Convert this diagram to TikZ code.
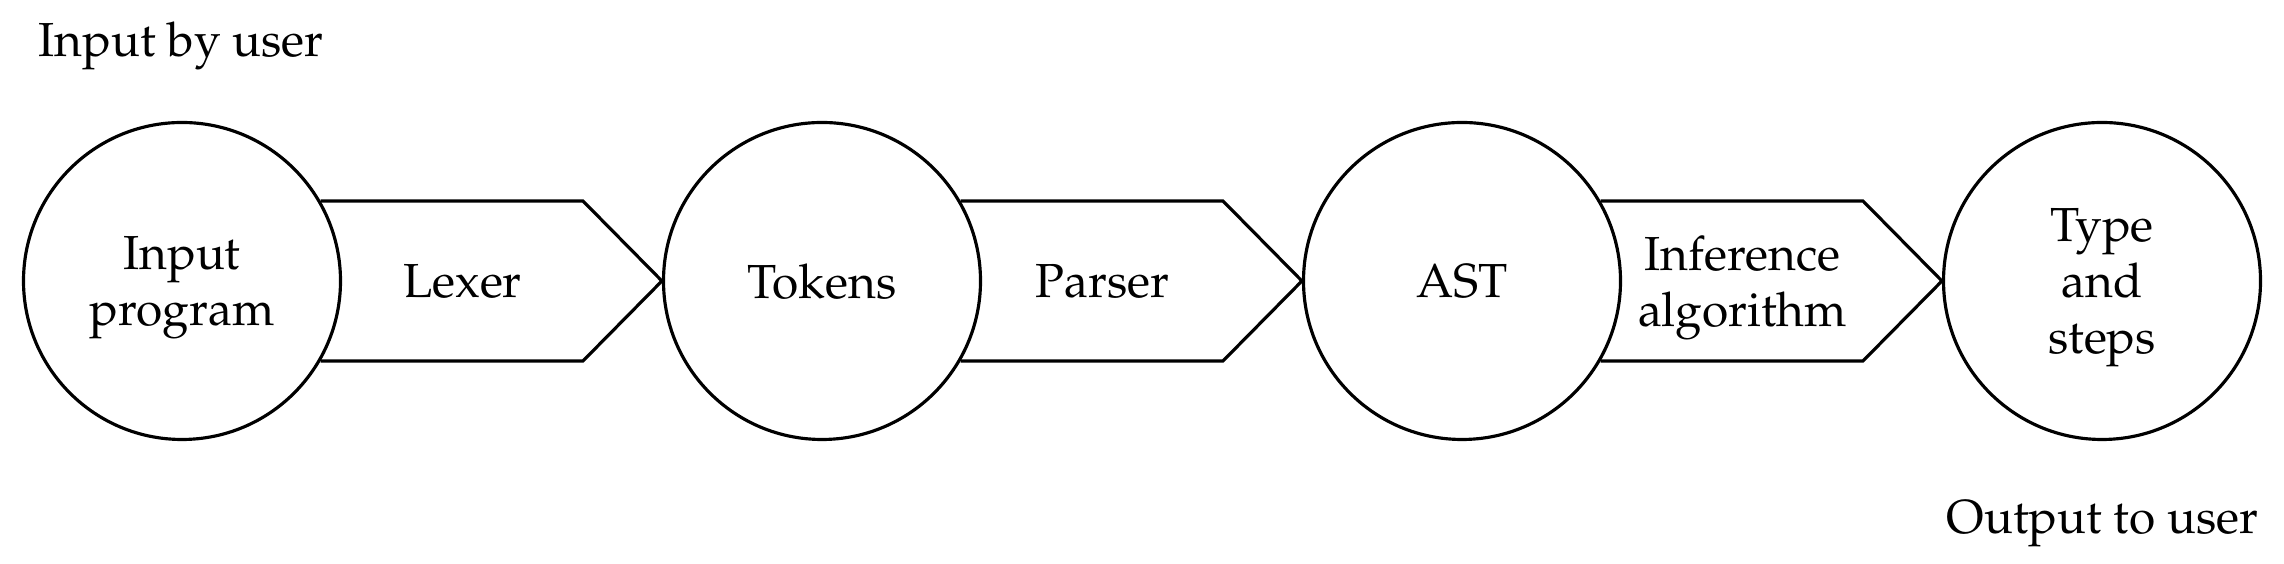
\documentclass[tikz,border=0pt]{standalone}
\usepackage[T1]{fontenc}
\usepackage{mathpazo}
\usepackage{tikz}
\usetikzlibrary{positioning,calc}

\begin{document}
\begin{tikzpicture}[font=\fontsize{13.6}{15.9}\selectfont,
  stage/.style={circle, draw, line width=0.9pt, minimum size=3.17cm, inner sep=0pt, align=center, text depth=0pt},
  pass/.style={draw, line width=0.9pt, line join=miter}]
\useasboundingbox (0,0) rectangle (22.84,5.64);
\node[stage] (prog) at (1.82,2.83) {Input\\program};
\node[stage] (tok) at (8.22,2.83) {Tokens};
\node[stage] (ast) at (14.62,2.83) {AST};
\node[stage] (res) at (21.02,2.83) {Type\\and\\steps};
\coordinate (lexend) at ($(tok.west)+(-0.79,0)$);
\coordinate (parend) at ($(ast.west)+(-0.79,0)$);
\coordinate (infend) at ($(res.west)+(-0.79,0)$);
\draw[pass] (prog.30) -- (lexend |- prog.30) -- (tok.west) -- (lexend |- prog.-30) -- (prog.-30);
\draw[pass] (tok.30) -- (parend |- tok.30) -- (ast.west) -- (parend |- tok.-30) -- (tok.-30);
\draw[pass] (ast.30) -- (infend |- ast.30) -- (res.west) -- (infend |- ast.-30) -- (ast.-30);
\node[align=center, text depth=0pt] (lexer) at ($(prog.east)!0.5!(lexend)$) {Lexer};
\node[align=center, text depth=0pt] (parser) at ($(tok.east)!0.5!(parend)$) {Parser};
\node[align=center, text depth=0pt] (infer) at ($(ast.east)!0.5!(infend)$) {Inference\\algorithm};
\node[anchor=base west, inner sep=0pt] (inuser) at (0.38,5.07) {Input by user};
\node[anchor=base east, inner sep=0pt] (outuser) at (22.59,0.30) {Output to user};
\end{tikzpicture}
\end{document}
